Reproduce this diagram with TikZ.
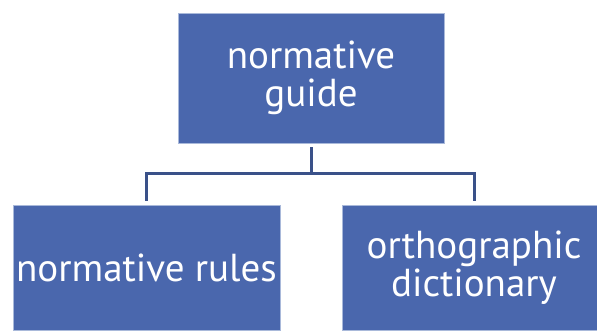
\documentclass[tikz,border=0pt]{standalone}
\usepackage{fontspec}
\setmainfont{PT Sans}
\definecolor{boxblue}{HTML}{4A67AD}
\definecolor{boxedge}{HTML}{A9B9DA}
\definecolor{linkblue}{HTML}{3A5189}
\begin{document}
\begin{tikzpicture}[x=1pt,y=-1pt,
  box/.style={draw=boxedge,line width=0.8pt,fill=boxblue,text=white,align=center,
    inner sep=0pt,font=\fontsize{39}{38}\selectfont},
  link/.style={draw=linkblue,line width=3pt}]
\useasboundingbox (0,0) rectangle (597,331);
\clip (0,0) rectangle (597,331);
\node[box,minimum width=266pt,minimum height=130pt] (top) at (311,78) {normative\\guide};
\node[box,minimum width=267pt,minimum height=125pt] (left) at (146.5,267.5) {normative rules};
\node[box,minimum width=264pt,minimum height=125pt] (right) at (474,267.5) {orthographic\\dictionary};
\coordinate (j) at (311,173.5);
\draw[link] ([yshift=-4pt]top.south) -- (j);
\draw[link] ([yshift=4pt]left.north) |- (j) -| ([yshift=4pt]right.north);
\end{tikzpicture}
\end{document}
